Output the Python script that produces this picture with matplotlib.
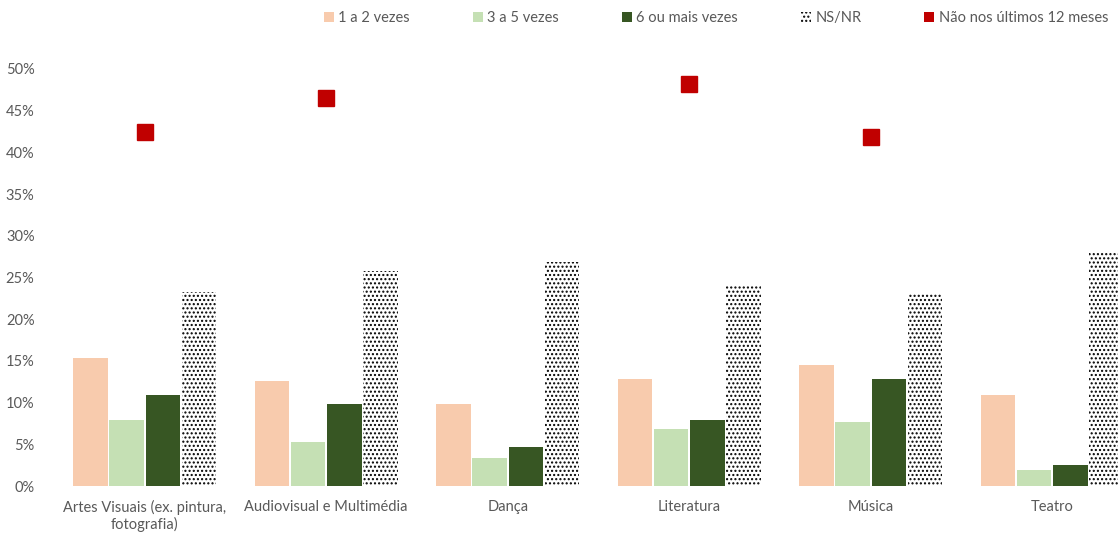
import matplotlib
matplotlib.use("Agg")
import matplotlib.pyplot as plt
import numpy as np
from matplotlib.patches import Patch
from matplotlib.ticker import PercentFormatter

plt.rcParams["font.family"] = ["Lato", "DejaVu Sans"]
plt.rcParams["hatch.linewidth"] = 1.0

categories = ["Artes Visuais (ex. pintura,\nfotografia)", "Audiovisual e Multimédia",
              "Dança", "Literatura", "Música", "Teatro"]
vezes_1_2 = [15.3, 12.6, 9.8, 12.8, 14.5, 10.9]
vezes_3_5 = [7.9, 5.3, 3.4, 6.8, 7.7, 1.9]
vezes_6_mais = [10.9, 9.8, 4.7, 7.9, 12.8, 2.5]
ns_nr = [23.3, 25.8, 26.9, 24.1, 23.0, 27.9]
nao_12_meses = [42.4, 46.5, np.nan, 48.2, 41.8, np.nan]

_PEACH = "#F8CBAD"
_LGREEN = "#C5E0B4"
_DGREEN = "#375623"
_RED = "#C00000"
_GREY = "#595959"

fig = plt.figure(figsize=(11.18, 5.33), dpi=100)
# chart area is wider than the picture: the last bar gets clipped like the original
ax = fig.add_axes([54 / 1118, 47 / 533, 1089 / 1118, 417 / 533])

x = np.arange(len(categories))
slot = 0.2
w = 0.19
ax.bar(x - 1.5 * slot, vezes_1_2, w, color=_PEACH)
ax.bar(x - 0.5 * slot, vezes_3_5, w, color=_LGREEN)
ax.bar(x + 0.5 * slot, vezes_6_mais, w, color=_DGREEN)
ax.bar(x + 1.5 * slot, ns_nr, w, color="white", edgecolor="black",
       hatch="....", linewidth=0)
ax.plot(x, nao_12_meses, linestyle="none", marker="s", markersize=11.5,
        color=_RED)

ax.set_xlim(-0.5, len(categories) - 0.5)
ax.set_ylim(0, 50)
ax.set_yticks(np.arange(0, 51, 5))
ax.yaxis.set_major_formatter(PercentFormatter(decimals=0))
ax.set_xticks(x)
ax.set_xticklabels(categories)
ax.tick_params(length=0, labelsize=10.5, colors=_GREY)
ax.tick_params(axis="x", pad=10)
ax.tick_params(axis="y", pad=14)
for s in ax.spines.values():
    s.set_visible(False)

handles = [
    Patch(facecolor=_PEACH, label="1 a 2 vezes"),
    Patch(facecolor=_LGREEN, label="3 a 5 vezes"),
    Patch(facecolor=_DGREEN, label="6 ou mais vezes"),
    Patch(facecolor="white", edgecolor="black", hatch="....", linewidth=0, label="NS/NR"),
    Patch(facecolor=_RED, label="Não nos últimos 12 meses"),
]
leg = fig.legend(handles=handles, loc="center", bbox_to_anchor=(716 / 1118, 1 - 18 / 533),
                 ncol=5, frameon=False, fontsize=10.5, handlelength=0.7,
                 handleheight=0.7, handletextpad=0.3, columnspacing=4.3)
for t in leg.get_texts():
    t.set_color(_GREY)

fig.savefig("out.png", dpi=100)
